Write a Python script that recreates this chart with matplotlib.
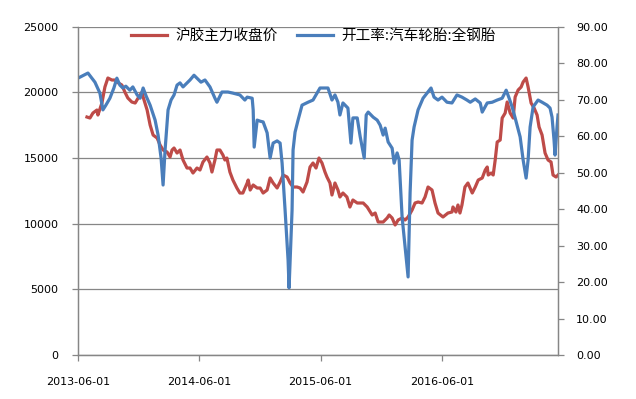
#!/usr/bin/env python
# -*- coding: utf-8 -*-
"""
Shanghai rubber main-contract close vs. all-steel truck tyre operating rate.
"""

from __future__ import annotations

import matplotlib

matplotlib.use("Agg")
import matplotlib.dates as mdates
import matplotlib.pyplot as plt
import pandas as pd


RUBBER_LABEL = "沪胶主力收盘价"
RATE_LABEL = "开工率:汽车轮胎:全钢胎"

RUBBER_DATES = [
    "2013-06-28", "2013-07-07", "2013-07-16", "2013-07-28", "2013-07-31", "2013-08-12",
    "2013-08-21", "2013-08-30", "2013-09-11", "2013-09-20", "2013-09-26", "2013-10-11",
    "2013-10-20", "2013-10-29", "2013-11-10", "2013-11-20", "2013-11-29", "2013-12-11",
    "2013-12-14", "2013-12-26", "2014-01-04", "2014-01-13", "2014-01-25", "2014-02-03",
    "2014-02-12", "2014-02-24", "2014-03-05", "2014-03-11", "2014-03-17", "2014-03-26",
    "2014-04-04", "2014-04-13", "2014-04-25", "2014-05-04", "2014-05-13", "2014-05-25",
    "2014-06-03", "2014-06-12", "2014-06-24", "2014-07-03", "2014-07-09", "2014-07-18",
    "2014-07-24", "2014-08-02", "2014-08-11", "2014-08-17", "2014-08-23", "2014-09-01",
    "2014-09-10", "2014-09-22", "2014-10-01", "2014-10-10", "2014-10-23", "2014-10-26",
    "2014-11-01", "2014-11-10", "2014-11-22", "2014-12-01", "2014-12-10", "2014-12-22",
    "2014-12-31", "2015-01-09", "2015-01-21", "2015-01-30", "2015-02-08", "2015-02-20",
    "2015-03-01", "2015-03-10", "2015-03-22", "2015-03-31", "2015-04-09", "2015-04-21",
    "2015-04-30", "2015-05-09", "2015-05-18", "2015-05-27", "2015-06-05", "2015-06-14",
    "2015-06-20", "2015-06-29", "2015-07-05", "2015-07-14", "2015-07-23", "2015-07-29",
    "2015-08-07", "2015-08-19", "2015-08-28", "2015-09-06", "2015-09-19", "2015-10-07",
    "2015-10-19", "2015-11-03", "2015-11-12", "2015-11-21", "2015-12-06", "2015-12-18",
    "2015-12-24", "2016-01-02", "2016-01-11", "2016-01-20", "2016-02-01", "2016-02-10",
    "2016-02-19", "2016-03-02", "2016-03-11", "2016-03-20", "2016-04-01", "2016-04-10",
    "2016-04-19", "2016-05-01", "2016-05-10", "2016-05-19", "2016-06-03", "2016-06-18",
    "2016-06-30", "2016-07-03", "2016-07-12", "2016-07-18", "2016-07-24", "2016-07-30",
    "2016-08-08", "2016-08-17", "2016-08-30", "2016-09-08", "2016-09-17", "2016-09-29",
    "2016-10-08", "2016-10-14", "2016-10-17", "2016-10-26", "2016-11-01", "2016-11-07",
    "2016-11-13", "2016-11-22", "2016-11-28", "2016-12-07", "2016-12-13", "2016-12-22",
    "2016-12-31", "2017-01-06", "2017-01-15", "2017-01-24", "2017-01-30", "2017-02-08",
    "2017-02-14", "2017-02-23", "2017-03-04", "2017-03-13", "2017-03-19", "2017-03-28",
    "2017-04-06", "2017-04-15", "2017-04-24", "2017-04-30", "2017-05-09", "2017-05-15",
]
RUBBER_CLOSE = [
    18124, 18048, 18428, 18657, 18276, 19190,
    20408, 21094, 20941, 20941, 20789, 20561,
    20027, 19571, 19266, 19190, 19571, 20027,
    19647, 18657, 17515, 16753, 16525, 15992,
    15611, 15458, 15078, 15611, 15763, 15382,
    15611, 14849, 14240, 14240, 13859, 14240,
    14088, 14697, 15078, 14621, 13935, 14849,
    15611, 15611, 15230, 14849, 15002, 13935,
    13326, 12717, 12336, 12336, 13098, 13326,
    12565, 12946, 12717, 12717, 12336, 12565,
    13479, 13098, 12717, 13174, 13707, 13555,
    13098, 12793, 12793, 12717, 12412, 13174,
    14316, 14621, 14240, 15002, 14621, 13935,
    13555, 13098, 12184, 13098, 12565, 12032,
    12336, 12032, 11270, 11803, 11575, 11575,
    11270, 10661, 10813, 10128, 10128, 10433,
    10661, 10433, 9900, 10280, 10433, 10280,
    10509, 11042, 11575, 11651, 11575, 12032,
    12793, 12565, 11575, 10813, 10509, 10813,
    10889, 11270, 10889, 11423, 10813, 11423,
    12793, 13098, 12336, 12793, 13326, 13479,
    14088, 14316, 13707, 13859, 13707, 14849,
    16220, 16372, 18048, 18428, 19266, 18428,
    18048, 19647, 20180, 20408, 20789, 21094,
    20408, 19190, 18809, 18276, 17362, 16753,
    15382, 14849, 14697, 13707, 13555, 13707,
]

RATE_DATES = [
    "2013-06-01", "2013-07-01", "2013-07-22", "2013-08-06", "2013-08-15", "2013-08-24",
    "2013-09-05", "2013-09-17", "2013-09-26", "2013-10-05", "2013-10-14", "2013-10-23",
    "2013-11-04", "2013-11-13", "2013-11-26", "2013-12-05", "2013-12-14", "2013-12-23",
    "2014-01-04", "2014-01-19", "2014-01-28", "2014-02-06", "2014-02-12", "2014-02-18",
    "2014-02-27", "2014-03-08", "2014-03-17", "2014-03-26", "2014-04-04", "2014-04-13",
    "2014-04-25", "2014-05-04", "2014-05-16", "2014-05-25", "2014-06-06", "2014-06-18",
    "2014-07-03", "2014-07-18", "2014-07-24", "2014-08-08", "2014-08-26", "2014-09-10",
    "2014-10-01", "2014-10-16", "2014-10-23", "2014-11-07", "2014-11-10", "2014-11-13",
    "2014-11-22", "2014-12-01", "2014-12-10", "2014-12-22", "2014-12-31", "2015-01-09",
    "2015-01-21", "2015-01-30", "2015-02-05", "2015-02-14", "2015-02-23", "2015-02-26",
    "2015-03-07", "2015-03-10", "2015-03-16", "2015-03-25", "2015-04-06", "2015-04-24",
    "2015-05-09", "2015-05-21", "2015-05-30", "2015-06-14", "2015-06-23", "2015-07-05",
    "2015-07-14", "2015-07-23", "2015-07-29", "2015-08-07", "2015-08-22", "2015-08-31",
    "2015-09-06", "2015-09-19", "2015-09-28", "2015-10-10", "2015-10-16", "2015-10-22",
    "2015-11-06", "2015-11-18", "2015-11-27", "2015-12-06", "2015-12-12", "2015-12-21",
    "2016-01-02", "2016-01-08", "2016-01-17", "2016-01-23", "2016-02-01", "2016-02-10",
    "2016-02-19", "2016-02-25", "2016-03-02", "2016-03-08", "2016-03-20", "2016-04-04",
    "2016-04-16", "2016-04-28", "2016-05-07", "2016-05-19", "2016-05-31", "2016-06-15",
    "2016-06-30", "2016-07-15", "2016-07-30", "2016-08-14", "2016-08-24", "2016-09-08",
    "2016-09-23", "2016-09-29", "2016-10-14", "2016-10-29", "2016-11-13", "2016-11-28",
    "2016-12-10", "2016-12-19", "2016-12-28", "2017-01-06", "2017-01-21", "2017-01-30",
    "2017-02-08", "2017-02-14", "2017-02-20", "2017-03-01", "2017-03-16", "2017-03-28",
    "2017-04-12", "2017-04-21", "2017-04-27", "2017-05-03", "2017-05-06", "2017-05-12",
    "2017-05-15",
]
RATE_VALUES = [
    75.9, 77.3, 74.8, 71.8, 67.2, 68.5,
    70.4, 73.2, 75.9, 74.0, 73.2, 73.7,
    72.6, 73.5, 71.3, 70.4, 73.2, 71.0,
    68.5, 64.4, 60.3, 54.0, 46.6, 56.2,
    67.2, 69.9, 71.3, 74.0, 74.6, 73.5,
    74.6, 75.4, 76.7, 75.9, 74.8, 75.4,
    73.5, 70.4, 69.3, 72.1, 72.1, 71.8,
    71.3, 69.9, 70.7, 70.4, 67.2, 57.0,
    64.4, 64.1, 63.9, 60.9, 54.0, 58.1,
    58.7, 58.1, 52.6, 39.7, 26.0, 18.4,
    39.7, 56.2, 61.1, 64.4, 68.5, 69.3,
    69.9, 71.8, 73.2, 73.2, 73.2, 69.9,
    71.3, 69.3, 65.8, 69.1, 67.7, 58.1,
    65.0, 65.0, 59.8, 54.0, 65.8, 66.6,
    65.2, 64.4, 63.0, 60.3, 62.2, 58.4,
    56.7, 52.6, 55.4, 53.5, 37.8, 29.6,
    21.4, 44.4, 58.9, 62.5, 67.2, 70.4,
    71.8, 73.2, 70.7, 69.9, 70.7, 69.3,
    69.1, 71.3, 70.7, 69.9, 69.3, 70.2,
    69.1, 66.6, 69.1, 69.3, 69.9, 70.4,
    72.6, 70.4, 68.0, 65.0, 59.8, 53.5,
    48.5, 53.5, 62.5, 68.0, 69.9, 69.3,
    68.5, 67.7, 65.2, 58.9, 54.8, 62.5,
    65.8,
]

X_START, X_END = "2013-06-01", "2017-05-15"
X_TICKS = ["2013-06-01", "2014-06-01", "2015-06-01", "2016-06-01"]
LEFT_TICKS = [0, 5000, 10000, 15000, 20000, 25000]
RIGHT_TICKS = [0, 10, 20, 30, 40, 50, 60, 70, 80, 90]

RED = "#BE4B48"
BLUE = "#4A7EBB"
GREY = "#868686"


def style_axis(ax) -> None:
    for spine in ax.spines.values():
        spine.set_color(GREY)
        spine.set_linewidth(0.9)
    ax.spines["top"].set_visible(False)
    ax.tick_params(axis="both", colors=GREY, labelcolor="black", labelsize=8,
                   length=4, width=0.9, direction="out")


def main() -> None:
    plt.rcParams["font.family"] = ["DejaVu Sans"]
    fig = plt.figure(figsize=(6.36, 3.99), dpi=100)
    ax = fig.add_axes([0.1226, 0.1103, 0.7548, 0.8227])
    ax2 = ax.twinx()

    rubber_x = pd.to_datetime(RUBBER_DATES)
    rate_x = pd.to_datetime(RATE_DATES)

    h1, = ax.plot(rubber_x, RUBBER_CLOSE, color=RED, lw=2.3, solid_joinstyle="round")
    h2, = ax2.plot(rate_x, RATE_VALUES, color=BLUE, lw=2.3, solid_joinstyle="round")

    ax.set_xlim(pd.Timestamp(X_START), pd.Timestamp(X_END))
    ax.set_ylim(0, 25000)
    ax2.set_ylim(0, 90)
    ax.set_yticks(LEFT_TICKS)
    ax2.set_yticks(RIGHT_TICKS)
    ax2.set_yticklabels([f"{v:.2f}" for v in RIGHT_TICKS])
    ax.set_xticks(pd.to_datetime(X_TICKS))
    ax.xaxis.set_major_formatter(mdates.DateFormatter("%Y-%m-%d"))

    ax.grid(axis="y", color=GREY, lw=0.9)
    ax.set_axisbelow(True)
    style_axis(ax)
    style_axis(ax2)
    ax.tick_params(axis="x", pad=12)
    ax.tick_params(axis="y", pad=10)
    ax2.tick_params(axis="y", pad=9)

    ax2.legend([h1, h2], [RUBBER_LABEL, RATE_LABEL], loc="center",
               bbox_to_anchor=(0.49, 0.972), ncol=2, frameon=False,
               handlelength=2.5, handletextpad=0.55, columnspacing=1.3,
               prop={"family": ["Noto Sans CJK SC", "DejaVu Sans"], "size": 10.5})

    fig.savefig("out.png", dpi=100, facecolor="white")
    plt.close(fig)


if __name__ == "__main__":
    main()
